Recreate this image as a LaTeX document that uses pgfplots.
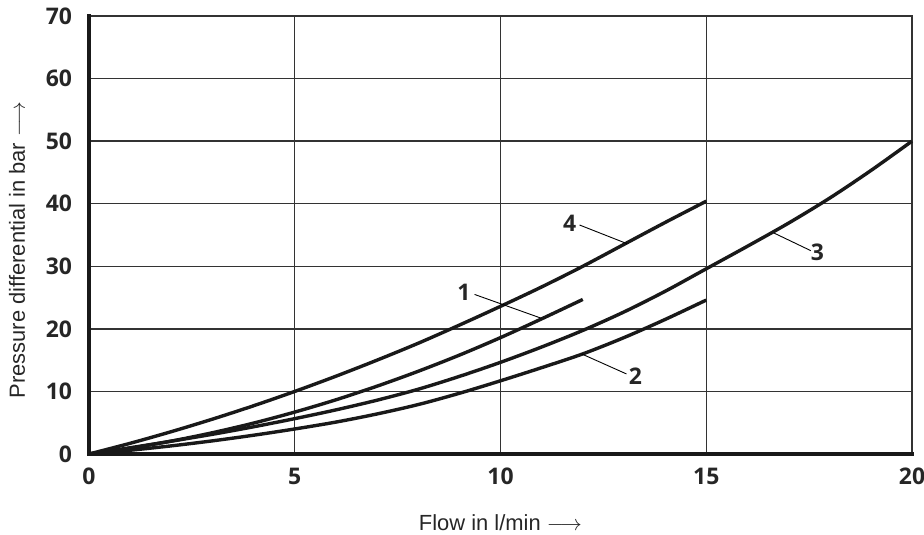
\documentclass[border=0pt]{standalone}
\usepackage{fontspec}
\setmainfont{Liberation Sans}
\newfontfamily\numfont{Open Sans}
\usepackage{pgfplots}
\pgfplotsset{compat=1.18}
\definecolor{gridc}{HTML}{333333}
\tikzset{curve/.style={black!90, line width=1.7bp, smooth, tension=0.5, no marks}}
\begin{document}
\begin{tikzpicture}
\begin{axis}[
  name=ax,
  scale only axis,
  width=411.5bp, height=219bp,
  xmin=0, xmax=20, ymin=0, ymax=70,
  xtick={0,5,10,15,20}, ytick={0,10,...,70},
  major tick length=0pt,
  grid=major,
  major grid style={draw=gridc, line width=0.7bp},
  axis line style={draw=gridc, line width=0.7bp},
  /pgf/number format/assume math mode=true,
  ticklabel style={font=\numfont\bfseries\fontsize{11.5}{13}\selectfont, text=black!85},
  xticklabel style={anchor=north, yshift=-3.5bp},
  yticklabel style={anchor=east, xshift=-5bp},
  xlabel={Flow in l/min $\longrightarrow$},
  ylabel={Pressure differential in bar $\longrightarrow$},
  label style={font=\fontsize{11}{13}\selectfont, text=black!85},
  xlabel style={at={(axis description cs:0.5,-0.1758)}, anchor=base},
  ylabel style={at={(axis description cs:-0.0778,0.466)}, anchor=base},
  clip=false,
]
% curve 4
\addplot[curve] coordinates {
(0,0) (1,1.71) (2,3.57) (3,5.57) (4,7.71) (5,10.0) (6,12.43) (7,15.0) (8,17.7)
(9,20.6) (10,23.6) (11,26.7) (12,30.0) (13,33.5) (14,37.0) (15,40.4)};
% curve 1
\addplot[curve] coordinates {
(0,0) (1,0.92) (2,2.06) (3,3.40) (4,4.94) (5,6.7) (6,8.66) (7,10.84) (8,13.22)
(9,15.80) (10,18.6) (11,21.6) (12,24.7)};
% curve 3
\addplot[curve] coordinates {
(0,0) (1,1.0) (2,2.05) (3,3.15) (4,4.35) (5,5.65) (6,7.05) (7,8.6) (8,10.35)
(9,12.4) (10,14.65) (11,17.1) (12,19.75) (13,22.7) (14,26.0) (15,29.6)
(16,33.2) (17,36.9) (18,40.9) (19,45.3) (20,50)};
% curve 2
\addplot[curve] coordinates {
(0,0) (1,0.6) (2,1.3) (3,2.1) (4,3.0) (5,4.0) (6,5.1) (7,6.4) (8,7.9)
(9,9.7) (10,11.7) (11,13.8) (12,16.0) (13,18.6) (14,21.5) (15,24.6)};
% leader lines and labels
\draw[black, line width=0.45bp] (axis cs:11.92,36.6) -- (axis cs:13.08,33.6);
\node[font=\numfont\bfseries\fontsize{11.5}{13}\selectfont, text=black!85] at (axis cs:11.68,36.9) {4};
\draw[black, line width=0.45bp] (axis cs:9.37,25.5) -- (axis cs:10.99,21.7);
\node[font=\numfont\bfseries\fontsize{11.5}{13}\selectfont, text=black!85] at (axis cs:9.11,25.8) {1};
\draw[black, line width=0.45bp] (axis cs:11.97,16.0) -- (axis cs:13.06,12.8);
\node[font=\numfont\bfseries\fontsize{11.5}{13}\selectfont, text=black!85] at (axis cs:13.28,12.5) {2};
\draw[black, line width=0.45bp] (axis cs:16.65,35.3) -- (axis cs:17.54,32.5);
\node[font=\numfont\bfseries\fontsize{11.5}{13}\selectfont, text=black!85] at (axis cs:17.7,32.3) {3};
\draw[black!90, line width=1.6bp, line cap=rect] (rel axis cs:0,1) -- (rel axis cs:0,0) -- (rel axis cs:1,0);
\end{axis}
\pgfresetboundingbox
\path[use as bounding box] ([xshift=-44.5bp,yshift=-40.5bp]ax.south west) rectangle ([xshift=6bp,yshift=8bp]ax.north east);
\end{tikzpicture}
\end{document}
